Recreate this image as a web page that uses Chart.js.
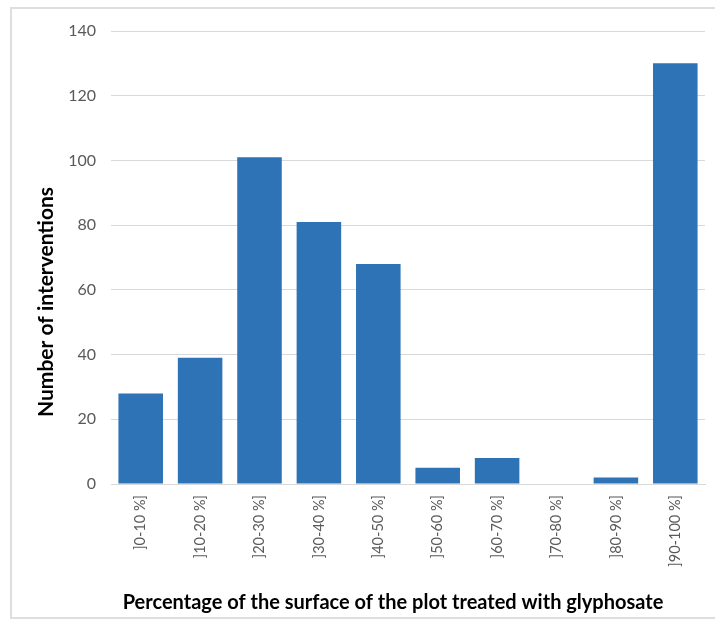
<!DOCTYPE html>
<html>
<head>
<meta charset="utf-8">
<script src="https://cdn.jsdelivr.net/npm/chart.js@4"></script>
<style>
  html, body { margin: 0; padding: 0; background: #ffffff; }
  #wrap { position: relative; width: 715px; height: 620px; }
</style>
</head>
<body>
<div id="wrap"><canvas id="c" width="715" height="620"></canvas></div>
<script>
// Percentage classes of plot surface treated with glyphosate
const categories = [']0-10 %]', ']10-20 %]', ']20-30 %]', ']30-40 %]', ']40-50 %]',
                    ']50-60 %]', ']60-70 %]', ']70-80 %]', ']80-90 %]', ']90-100 %]'];
// Number of interventions per class
const interventions = [28, 39, 101, 81, 68, 5, 8, 0, 2, 130];
// Value axis ticks
const yTicks = [0, 20, 40, 60, 80, 100, 120, 140];

const xTitle = 'Percentage of the surface of the plot treated with glyphosate';
const yTitle = 'Number of interventions';

const FONT = 'Lato, "Open Sans", "DejaVu Sans", sans-serif';

// Outer frame and axis titles drawn around the plot
const decorations = {
  id: 'decorations',
  beforeDraw(chart) {
    const ctx = chart.ctx;
    ctx.save();
    ctx.fillStyle = '#ffffff';
    ctx.fillRect(0, 0, chart.width, chart.height);
    ctx.strokeStyle = '#dedede';
    ctx.lineWidth = 2;
    ctx.beginPath();
    ctx.moveTo(chart.width + 2, 8);
    ctx.lineTo(11, 8);
    ctx.lineTo(11, 618);
    ctx.lineTo(chart.width + 2, 618);
    ctx.stroke();
    ctx.restore();
  },
  afterDraw(chart) {
    const ctx = chart.ctx;
    ctx.save();
    ctx.fillStyle = '#000000';
    ctx.textAlign = 'center';
    ctx.textBaseline = 'alphabetic';
    ctx.font = 'bold 20px ' + FONT;
    ctx.fillText(xTitle, 393, 609);
    ctx.font = 'bold 21px ' + FONT;
    ctx.translate(53, 302);
    ctx.rotate(-Math.PI / 2);
    ctx.fillText(yTitle, 0, 0);
    ctx.restore();
  }
};

new Chart(document.getElementById('c'), {
  type: 'bar',
  data: {
    labels: categories,
    datasets: [{
      data: interventions,
      backgroundColor: '#2e73b6',
      borderWidth: 0,
      barPercentage: 0.75,
      categoryPercentage: 1.0
    }]
  },
  options: {
    responsive: false,
    animation: false,
    devicePixelRatio: 1,
    layout: { padding: { top: 31, right: 10, left: 0, bottom: 0 } },
    plugins: {
      legend: { display: false },
      tooltip: { enabled: false }
    },
    scales: {
      x: {
        grid: { display: false, drawTicks: false },
        border: { display: true, color: '#d9d9d9', width: 1 },
        ticks: {
          color: '#595959',
          font: { family: FONT, size: 14.5 },
          minRotation: 90,
          maxRotation: 90,
          padding: 11,
          autoSkip: false
        },
        afterFit(scale) { scale.height = 136; }
      },
      y: {
        min: 0,
        max: 140,
        afterBuildTicks(scale) { scale.ticks = yTicks.map(v => ({ value: v })); },
        grid: { color: '#d9d9d9', lineWidth: 1, drawTicks: false },
        border: { display: false },
        ticks: {
          color: '#595959',
          font: { family: FONT, size: 16 },
          padding: 15
        },
        afterFit(scale) { scale.width = 111; }
      }
    }
  },
  plugins: [decorations]
});
</script>
</body>
</html>
